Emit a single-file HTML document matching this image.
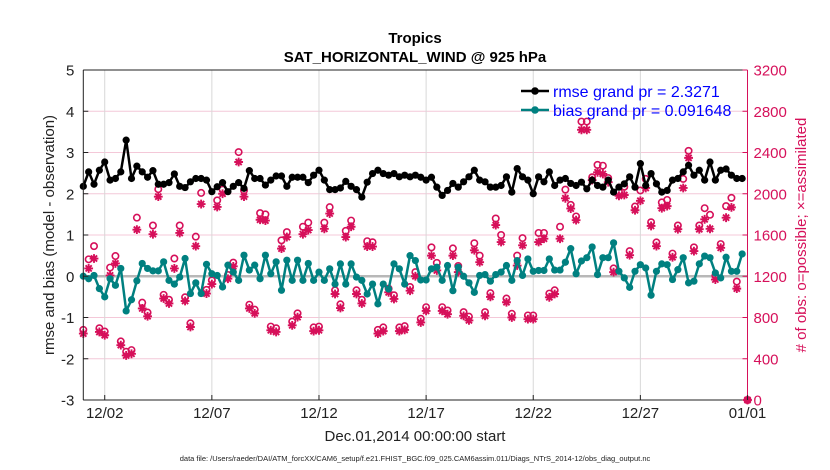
<!DOCTYPE html>
<html><head><meta charset="utf-8">
<style>
html,body{margin:0;padding:0;background:#fff;}
svg{display:block;font-family:"Liberation Sans",Arial,sans-serif;}
</style></head>
<body>
<svg id="chart" width="830" height="470" viewBox="0 0 830 470" xmlns="http://www.w3.org/2000/svg">
<rect width="830" height="470" fill="#fff"/>
<text x="415" y="43" text-anchor="middle" font-size="15" font-weight="bold">Tropics</text>
<text x="415" y="62" text-anchor="middle" font-size="15" font-weight="bold">SAT_HORIZONTAL_WIND @ 925 hPa</text>
<g id="grid"></g>
<g id="marks"></g>
<g id="axes"></g>
<text transform="translate(54,235) rotate(-90)" text-anchor="middle" font-size="15" fill="#222">rmse and bias (model - observation)</text>
<text transform="translate(806,235) rotate(-90)" text-anchor="middle" font-size="15" fill="#d6105a"># of obs: o=possible; ×=assimilated</text>
<text x="415" y="441" text-anchor="middle" font-size="15" fill="#222">Dec.01,2014 00:00:00 start</text>
<text x="415" y="461" text-anchor="middle" font-size="7.5" fill="#222">data file: /Users/raeder/DAI/ATM_forcXX/CAM6_setup/f.e21.FHIST_BGC.f09_025.CAM6assim.011/Diags_NTrS_2014-12/obs_diag_output.nc</text>
<g>
<line x1="521" y1="91" x2="549" y2="91" stroke="#000" stroke-width="2.5"/>
<circle cx="535" cy="91" r="3.8" fill="#000"/>
<text x="553" y="97" font-size="16" fill="#0000ff">rmse grand pr = 2.3271</text>
<line x1="521" y1="110" x2="549" y2="110" stroke="#008080" stroke-width="2.5"/>
<circle cx="535" cy="110" r="3.8" fill="#008080"/>
<text x="553" y="116" font-size="16" fill="#0000ff">bias grand pr = 0.091648</text>
</g>
</svg>
<script>
const rmse = [2.18,2.53,2.23,2.57,2.77,2.33,2.37,2.53,3.30,2.37,2.67,2.53,2.40,2.56,2.23,2.23,2.27,2.48,2.18,2.15,2.29,2.37,2.37,2.33,2.05,2.17,2.27,2.05,2.18,2.27,2.13,2.56,2.37,2.37,2.21,2.33,2.43,2.43,2.18,2.40,2.40,2.40,2.27,
2.45,2.57,2.33,2.1,2.1,2.14,2.3,2.18,2.1,1.92,2.28,2.49,2.57,2.49,2.45,2.49,2.41,2.45,2.41,
2.45,2.4,2.33,2.4,2.16,1.96,2.08,2.25,2.16,2.29,2.41,2.57,2.33,2.29,2.16,2.16,2.2,2.41,2.04,2.61,2.41,2.33,2.0,2.41,2.29,2.53,2.2,2.33,2.37,2.25,2.2,
2.28,2.12,2.33,2.2,2.16,2.33,2.04,2.16,2.24,2.41,2.16,2.73,2.2,2.49,2.24,2.04,2.08,2.33,2.37,2.53,2.69,2.45,2.57,2.33,2.77,2.33,2.57,2.6,2.45,2.37,2.37];
const bias = [0,-0.06,0.02,-0.3,-0.5,-0.06,-0.22,0.19,-0.84,-0.57,-0.11,0.31,0.19,0.13,0.13,0.35,-0.1,-0.19,-0.02,0.43,-0.42,-0.16,-0.42,0.29,0.06,0.02,-0.26,0.27,0.1,-0.1,0.51,0.15,0.27,-0.06,0.51,0.06,0.35,-0.34,0.39,-0.1,0.39,-0.1,0.31,
-0.1,0.1,-0.1,0.18,-0.19,0.3,-0.19,0.3,-0.02,-0.1,-0.43,-0.19,-0.67,-0.19,-0.31,0.3,0.18,-0.19,0.5,
0.38,-0.09,-0.09,0.18,0.22,-0.1,0.26,-0.35,0.22,0.0,-0.16,-0.39,0.02,0.04,-0.12,0.04,0.1,0.26,-0.1,0.38,0.02,0.42,0.12,0.14,0.14,0.42,0.15,0.15,0.34,0.67,0.06,
0.37,0.45,0.71,0.04,0.45,0.45,0.81,0.12,-0.04,-0.27,0.12,0.28,0.2,-0.46,0.12,0.3,0.28,-0.08,0.16,0.45,-0.16,-0.12,0.3,0.49,0.45,0.08,-0.04,0.46,0.12,0.12,0.54];
const obsAssim = [644,1276,1372,660,628,1208,1324,532,432,448,1652,888,812,1608,1972,984,936,1276,1620,960,708,1492,1900,1032,1124,1872,2000,1176,1296,2308,1972,888,840,1748,1740,676,660,1468,1580,724,804,1608,1648,
668,676,1660,1808,1028,892,1580,1680,1028,936,1488,1488,644,668,1044,980,668,680,1060,
1200,752,864,1400,1256,864,832,1400,1240,816,772,1452,1336,816,1000,1696,1532,948,800,1304,1500,784,784,1532,1564,996,1028,1564,1956,1856,1744,
2620,2620,2132,2208,2192,2112,1240,1980,1988,1404,1840,1932,2056,1688,1492,1860,1880,1384,1656,2056,2348,1444,1656,1752,1660,1168,1476,1768,1868,1080,0];
const obsPoss = [680,1364,1492,696,664,1284,1396,568,468,484,1768,944,848,1692,2044,1020,972,1372,1692,996,744,1584,2008,1068,1160,1936,2040,1212,1332,2404,2032,924,876,1812,1800,712,696,1548,1628,760,840,1680,1720,
704,712,1720,1870,1064,928,1640,1740,1064,972,1540,1530,680,704,1080,1016,704,716,1096,
1240,788,900,1480,1330,900,868,1470,1300,852,808,1520,1400,852,1036,1760,1600,984,836,1400,1570,820,820,1620,1620,1032,1064,1680,2040,1892,1780,
2700,2700,2160,2280,2272,2152,1276,2016,2068,1444,1876,2032,2144,1724,1528,1916,1940,1420,1692,2144,2416,1480,1692,1860,1796,1204,1512,1880,1960,1148,0];
const leftTicks = [-3,-2,-1,0,1,2,3,4,5];
const rightTicks = [0,400,800,1200,1600,2000,2400,2800,3200];
const xTickDays = [1,6,11,16,21,26,31];
const xTickLabels = ["12/02","12/07","12/12","12/17","12/22","12/27","01/01"];
const stepDays = 0.25;

const X0=83.3, X1=747.5, Y0=70, Y1=400;
const xs = d => X0 + d*(X1-X0)/31;
const yL = v => Y1 - (v+3)*(Y1-Y0)/8;
const yR = n => Y1 - n*(Y1-Y0)/3200;
const NS="http://www.w3.org/2000/svg";
function mk(tag, attrs, parent){const e=document.createElementNS(NS,tag);for(const k in attrs)e.setAttribute(k,attrs[k]);parent.appendChild(e);return e;}
const grid=document.getElementById('grid'), marks=document.getElementById('marks'), axes=document.getElementById('axes');

rightTicks.forEach(t=>{
  const g=mk('line',{x1:X0,x2:X1,y1:yR(t),y2:yR(t),stroke:'#f4c8d8','stroke-width':1},grid);
  
  
});
xTickDays.forEach(d=>{
  const g=mk('line',{x1:xs(d),x2:xs(d),y1:Y0,y2:Y1,stroke:'#d8d8d8','stroke-width':1},grid);
  
  
});
const zl=mk('line',{x1:X0,x2:X1,y1:yL(0),y2:yL(0),stroke:'#b8b8b8','stroke-width':2.5},grid);



obsPoss.forEach((n,i)=>{
  const d = i<obsPoss.length-1 ? i*stepDays : 31;
  const c=mk('circle',{cx:xs(d),cy:yR(n),r:3.2,fill:'none',stroke:'#d6105a','stroke-width':1.6},marks);
  
  
});
obsAssim.forEach((n,i)=>{
  const d = i<obsAssim.length-1 ? i*stepDays : 31;
  const cx=xs(d), cy=yR(n), r=4.4;
  const p=mk('path',{d:`M${cx-r},${cy}H${cx+r}M${cx},${cy-r}V${cy+r}M${cx-r*0.7},${cy-r*0.7}L${cx+r*0.7},${cy+r*0.7}M${cx-r*0.7},${cy+r*0.7}L${cx+r*0.7},${cy-r*0.7}`,stroke:'#d6105a','stroke-width':1.9,fill:'none'},marks);
  
  
});

function series(arr,color,name){
  const pts=arr.map((v,i)=>`${xs(i*stepDays).toFixed(1)},${yL(v).toFixed(1)}`).join(' ');
  const l=mk('polyline',{points:pts,fill:'none',stroke:color,'stroke-width':2.5,'stroke-linejoin':'round'},marks);
  
  
  arr.forEach((v,i)=>{
    const c=mk('circle',{cx:xs(i*stepDays),cy:yL(v),r:3.6,fill:color},marks);
    
    
  });
}
series(bias,'#008080','bias');
series(rmse,'#000000','rmse');

const la=mk('line',{x1:X0,x2:X0,y1:Y0,y2:Y1,stroke:'#222','stroke-width':1},axes);


const ra=mk('line',{x1:X1,x2:X1,y1:Y0,y2:Y1,stroke:'#d6105a','stroke-width':1},axes);


const ta=mk('line',{x1:X0,x2:X1,y1:Y0,y2:Y0,stroke:'#222','stroke-width':1},axes);


const ba=mk('line',{x1:X0,x2:X1,y1:Y1,y2:Y1,stroke:'#222','stroke-width':1},axes);


leftTicks.forEach(t=>{
  mk('line',{x1:X0,x2:X0+5,y1:yL(t),y2:yL(t),stroke:'#222'},axes);
  const tx=mk('text',{x:X0-9,y:yL(t)+5.5,'text-anchor':'end','font-size':15,fill:'#222'},axes);
  tx.textContent=t;
  
  
});
rightTicks.forEach(t=>{
  mk('line',{x1:X1-5,x2:X1,y1:yR(t),y2:yR(t),stroke:'#d6105a'},axes);
  const tx=mk('text',{x:X1+6,y:yR(t)+5.5,'font-size':15,fill:'#d6105a'},axes);
  tx.textContent=t;
  
  
});
xTickDays.forEach((d,i)=>{
  mk('line',{x1:xs(d),x2:xs(d),y1:Y1,y2:Y1-5,stroke:'#222'},axes);
  const tx=mk('text',{x:xs(d),y:Y1+18,'text-anchor':'middle','font-size':15,fill:'#222'},axes);
  tx.textContent=xTickLabels[i];
  
  
});
</script>
</body></html>
